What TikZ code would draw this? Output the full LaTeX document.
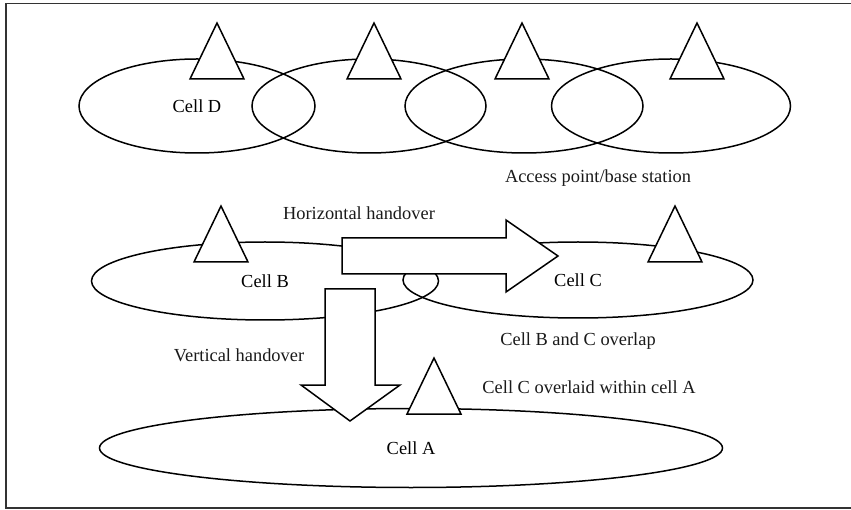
\documentclass[tikz,border=0pt]{standalone}
\usepackage{fontspec}
\setmainfont{Liberation Serif}
\usetikzlibrary{shapes.geometric}

\begin{document}
\begin{tikzpicture}[x=1pt,y=-1pt,line width=1.5pt,
  cell/.style={draw,ellipse,inner sep=0pt,font=\fontsize{18.4}{22}\selectfont},
  tower/.style={draw,fill=white,line join=miter},
  handover/.style={draw,fill=white,line join=miter},
  lbl/.style={font=\fontsize{18.4}{22}\selectfont}]
% Colors define
\definecolor{myFrame}{HTML}{333333}
\definecolor{myText}{HTML}{1A1A1A}

% Page size
\useasboundingbox (0,0) rectangle (851,510);

% Outer frame, its right side runs off the page
\draw[myFrame,line width=1.8pt] (860,3.5) -- (6,3.5) -- (6,508) -- (860,508);

% Upper row of cells
\node[cell,minimum width=236,minimum height=94] (D) at (197,106) {Cell D};
\node[cell,minimum width=234,minimum height=94] (D2) at (369,106) {};
\node[cell,minimum width=238,minimum height=94] (D3) at (524,106) {};
\node[cell,minimum width=239,minimum height=94] (D4) at (671,106) {};

% Cells B and C, and the big cell A
\node[cell,minimum width=347,minimum height=78] (B) at (265,281) {Cell B};
\node[cell,minimum width=350,minimum height=76] (C) at (578,280) {Cell C};
\node[cell,minimum width=623,minimum height=79] (A) at (411,448) {Cell A};

% Access points
\foreach \x/\y in {217/23,374/23,522/23,697/23,221/206,675/206,434/358}
    \draw[tower] (\x,\y) -- ++(-27,56) -- ++(54,0) -- cycle;

% Big arrows
\draw[handover] (342,238) -- (506,238) -- (506,220) -- (558,256)
  -- (506,292) -- (506,274) -- (342,274) -- cycle;
\draw[handover] (325,289) -- (375,289) -- (375,385) -- (400,385)
  -- (350,421) -- (301,385) -- (325,385) -- cycle;

% Labels
\node[lbl,myText] (hor) at (359,213) {Horizontal handover};
\node[lbl,myText] (ver) at (239,355) {Vertical handover};
\node[lbl,myText] (ap) at (598,178) {Access point/base station};
\node[lbl,myText] (ovl) at (578,341) {Cell B and C overlap};
\node[lbl,myText] (inA) at (589,387) {Cell C overlaid within cell A};
\end{tikzpicture}
\end{document}
